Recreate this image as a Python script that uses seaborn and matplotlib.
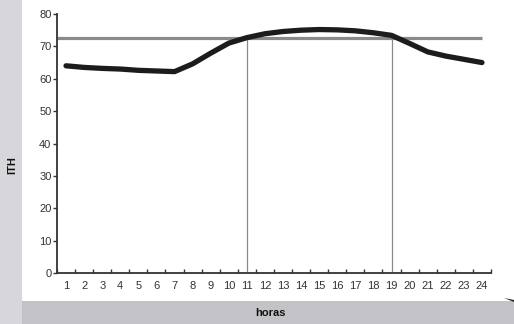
import matplotlib
matplotlib.use("Agg")
import matplotlib.pyplot as plt
import seaborn as sns
import pandas as pd
from matplotlib.patches import Rectangle, Polygon

hours = list(range(1, 25))
ith = [64.0, 63.5, 63.2, 63.0, 62.6, 62.4, 62.2, 64.6, 67.9, 71.0, 72.7, 73.9,
       74.6, 75.0, 75.2, 75.1, 74.8, 74.2, 73.4, 70.9, 68.3, 67.0, 66.0, 65.0]
threshold = 72.7
marks = [11, 19]
yticks = [0, 10, 20, 30, 40, 50, 60, 70, 80]

sns.set_theme(style="white")
plt.rcParams['font.family'] = ['Liberation Sans Narrow', 'Liberation Sans', 'DejaVu Sans']

fig = plt.figure(figsize=(5.14, 3.24), dpi=100)
fig.patch.set_facecolor("white")

# decorative frame: left strip and bottom band
fig.add_artist(Rectangle((0, 0), 22/514, 1, transform=fig.transFigure,
                         facecolor="#d7d7db", edgecolor="none", zorder=0))
fig.add_artist(Rectangle((22/514, 0), 1, 23/324, transform=fig.transFigure,
                         facecolor="#c3c3c7", edgecolor="none", zorder=0))
fig.add_artist(Polygon([(504/514, 26/324), (514/514, 24/324), (514/514, 22/324)],
                       closed=True, transform=fig.transFigure,
                       facecolor="#222222", edgecolor="none", zorder=1))

ax = fig.add_axes([57/514, 1 - 273/324, (491 - 57)/514, (273 - 14)/324])
ax.set_facecolor("none")

df = pd.DataFrame({"horas": hours, "ITH": ith})

ax.hlines(threshold, 0.5, 24, color="#8a8a8a", linewidth=2.3, zorder=2)
ax.vlines(marks, 0, threshold, color="#8a8a8a", linewidth=0.9, zorder=1)

sns.lineplot(data=df, x="horas", y="ITH", ax=ax, color="#1c1c1c", linewidth=3.8,
             solid_capstyle="round", solid_joinstyle="round", zorder=3)

ax.set_xlim(0.5, 24.5)
ax.set_ylim(0, 80)
ax.set_yticks(yticks)
ax.set_yticklabels([str(v) for v in yticks])
ax.set_xticks(hours)
ax.set_xticklabels([str(h) for h in hours])
ax.set_xticks([h + 0.5 for h in range(0, 25)], minor=True)

for s in ["top", "right"]:
    ax.spines[s].set_visible(False)
for s in ["left", "bottom"]:
    ax.spines[s].set_color("#333333")
    ax.spines[s].set_linewidth(1.3)

ax.tick_params(axis="y", which="major", direction="out", length=3, width=1,
               color="#333333", labelsize=8, labelcolor="#333333", pad=1,
               left=True)
ax.tick_params(axis="x", which="major", length=0, labelsize=8,
               labelcolor="#333333", pad=6, bottom=True)
ax.tick_params(axis="x", which="minor", direction="in", length=3, width=1,
               color="#333333", bottom=True)

ax.set_xlabel("")
ax.set_ylabel("")
fig.text(270/514, 1 - 313/324, "horas", ha="center", va="center",
         fontsize=8, fontweight="bold", color="#111111")
fig.text(12/514, 1 - 165/324, "ITH", ha="center", va="center", rotation=90,
         fontsize=8, fontweight="bold", color="#111111")

fig.savefig("out.png", dpi=100)
